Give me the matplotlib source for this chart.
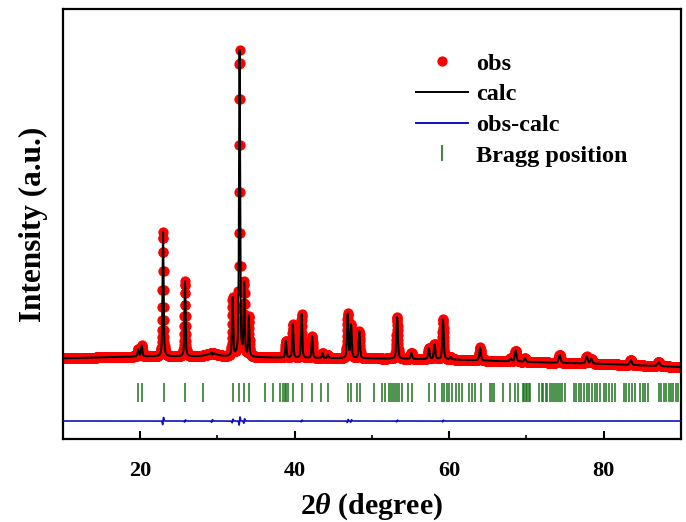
import numpy as np
from matplotlib import pyplot as plt
from matplotlib.lines import Line2D
from matplotlib.ticker import MultipleLocator, NullLocator

plt.rcParams["font.family"] = ["Liberation Serif", "DejaVu Serif"]
plt.rcParams["font.weight"] = "bold"
plt.rcParams["mathtext.fontset"] = "custom"
plt.rcParams["mathtext.it"] = "Liberation Serif:italic:bold"
plt.rcParams["mathtext.rm"] = "Liberation Serif:bold"

## 2theta grid of the scan
two_theta = np.arange(10.0, 90.001, 0.02)

## background anchors (intensity, a.u.)
bg_x = [10, 20, 30, 40, 50, 60, 70, 80, 90]
bg_y = [-13, 5, 5, -10, -15, -25, -50, -70, -100]

## reflections: position (deg) and height (a.u.)
peak_pos = [19.74, 20.2, 22.96, 25.8, 29.3, 31.96, 32.86, 33.46, 34.06,
            38.86, 39.76, 40.9, 42.26, 43.6, 44.3, 46.86, 47.3, 48.36,
            53.26, 55.1, 57.36, 58.1, 59.2, 60.2, 64.0, 67.96, 68.6,
            69.8, 74.3, 77.8, 78.4, 83.5, 87.1]
peak_height = [70, 110, 1240, 750, 30, 580, 3060, 720, 400,
               170, 340, 440, 220, 50, 30, 440, 330, 270,
               420, 60, 110, 150, 400, 25, 130, 30, 110,
               35, 80, 70, 45, 50, 40]
peak_fwhm = [0.2, 0.2, 0.17, 0.17, 1.6, 0.17, 0.17, 0.17, 0.17,
             0.18, 0.18, 0.18, 0.18, 0.2, 0.2, 0.2, 0.2, 0.2,
             0.22, 0.22, 0.22, 0.22, 0.22, 0.22, 0.24, 0.26, 0.26,
             0.26, 0.28, 0.3, 0.3, 0.32, 0.34]

## misfit between observed and calculated profiles
diff_pos = [22.96, 25.8, 29.3, 31.96, 32.86, 33.46, 40.9, 46.86, 47.3, 53.26, 59.2]
diff_amp = [35, 10, 12, 18, 40, 22, 8, 15, 12, 8, 8]

## Bragg reflection positions
bragg = [19.65, 20.2, 23.14, 25.8, 28.17, 31.96, 32.8, 33.4, 34.06, 36.13,
         37.2, 38.06, 38.5, 38.7, 38.93, 39.14, 39.8, 41.0, 42.2, 43.35,
         44.3, 46.9, 47.3, 48.1, 48.4, 50.2, 51.3, 51.74, 52.26, 52.5,
         52.7, 53.0, 53.2, 53.5, 53.9, 54.6, 55.2, 57.4, 58.2, 59.06,
         59.35, 59.65, 60.0, 60.4, 60.9, 61.3, 61.64, 62.6, 62.9, 63.35,
         64.1, 65.3, 65.6, 65.8, 66.9, 67.9, 68.5, 68.9, 69.5, 69.7,
         69.9, 70.1, 70.3, 70.5, 71.62, 71.96, 72.18, 72.48, 72.69, 72.99,
         73.25, 73.55, 73.77, 74.02, 74.33, 74.63, 74.93, 76.13, 76.43, 76.78,
         77.12, 77.42, 77.77, 78.07, 78.5, 78.84, 79.14, 79.57, 80.0, 80.3,
         80.65, 81.08, 81.42, 82.58, 82.93, 83.32, 83.66, 84.0, 84.73, 85.03,
         85.38, 85.72, 87.1, 87.4, 87.74, 88.05, 88.39, 88.73, 89.03, 89.34,
         89.59]


def pseudo_voigt(x, x0, h, fwhm, eta=0.5):
    g = np.exp(-4 * np.log(2) * (x - x0) ** 2 / fwhm**2)
    l = 1 / (1 + 4 * (x - x0) ** 2 / fwhm**2)
    return h * (eta * l + (1 - eta) * g)


obs = np.interp(two_theta, bg_x, bg_y)
for p, h, w in zip(peak_pos, peak_height, peak_fwhm):
    obs = obs + pseudo_voigt(two_theta, p, h, w)

diff = np.zeros_like(two_theta)
for p, a in zip(diff_pos, diff_amp):
    u = (two_theta - p) / 0.06
    diff = diff + a * 1.65 * u * np.exp(-u**2 / 2)
calc = obs - diff

fig = plt.figure(figsize=(6.86, 5.22), dpi=100)
ax = fig.add_axes([0.0918, 0.159, 0.9009, 0.8238])

ax.plot(two_theta, obs, "o", color="#ff0000", ms=7.4, mew=0, zorder=2)
ax.plot(two_theta, calc, "-", color="black", lw=1.4, zorder=3)
ax.plot(two_theta, diff - 640, "-", color="#1010c0", lw=1.2, zorder=3)
ax.vlines(bragg, -450, -262, color="#1a741a", lw=1.1, zorder=2)

ax.set_xlim(10, 90)
ax.set_ylim(-820, 3480)
ax.xaxis.set_major_locator(MultipleLocator(20))
ax.xaxis.set_minor_locator(MultipleLocator(10))
ax.yaxis.set_major_locator(NullLocator())
ax.tick_params(axis="x", which="major", direction="in", length=6, width=1.5,
               labelsize=16, pad=16)
ax.tick_params(axis="x", which="minor", direction="in", length=3, width=1.2)
for s in ax.spines.values():
    s.set_linewidth(1.6)

ax.set_xlabel(r"2$\mathit{\theta}$ (degree)", fontsize=21.5, fontweight="bold", labelpad=7)
ax.set_ylabel("Intensity (a.u.)", fontsize=22.5, fontweight="bold", labelpad=11)

handles = [
    Line2D([], [], ls="none", marker="o", color="#ff0000", ms=7.4, mew=0),
    Line2D([], [], color="black", lw=1.4),
    Line2D([], [], color="#1010c0", lw=1.4),
    Line2D([], [], ls="none", marker="|", color="#1a741a", ms=11, mew=1.2),
]
ax.legend(handles, ["obs", "calc", "obs-calc", "Bragg position"],
          loc="upper left", bbox_to_anchor=(0.551, 0.926), frameon=False,
          borderpad=0, handlelength=2.14, handletextpad=0.36, labelspacing=0.35,
          prop={"family": "Liberation Serif", "weight": "bold", "size": 17.5})

fig.savefig("out.png", dpi=100)
